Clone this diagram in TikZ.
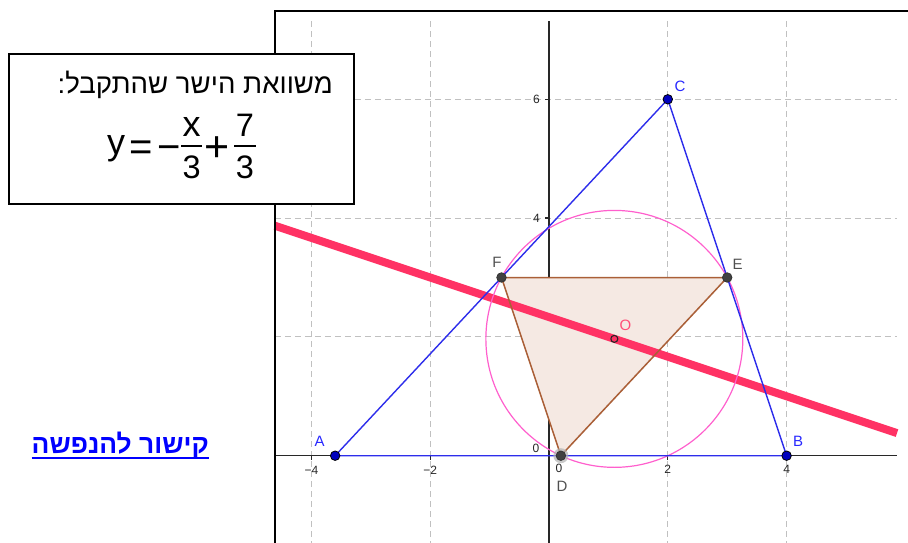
\documentclass[tikz,border=0pt]{standalone}
\usepackage{fontspec}
\setmainfont{Liberation Sans}
\newfontfamily\hebfont[Script=Hebrew]{Liberation Sans}
\TeXXeTstate=1
\definecolor{gridc}{RGB}{192,192,192}
\definecolor{axisc}{RGB}{40,40,40}
\definecolor{segblue}{RGB}{45,45,235}
\definecolor{ptblue}{RGB}{0,0,190}
\definecolor{circc}{RGB}{255,95,205}
\definecolor{redc}{RGB}{255,50,100}
\definecolor{brownc}{RGB}{170,95,55}
\definecolor{fillc}{RGB}{245,233,227}
\definecolor{ptgray}{RGB}{65,65,65}
\definecolor{lblgray}{RGB}{80,80,80}
\definecolor{lblblue}{RGB}{40,40,255}
\definecolor{lblpink}{RGB}{255,80,120}
\definecolor{linkblue}{RGB}{0,0,255}
\tikzset{
  gridline/.style={gridc, line width=1pt, dash pattern=on 6pt off 4pt},
  axisline/.style={axisc, line width=1.3pt},
  ticklbl/.style={inner sep=0, text=black!85, font=\fontsize{12}{14}\selectfont},
  ptlbl/.style={inner sep=0, font=\fontsize{15}{18}\selectfont},
  bluept/.style={circle, inner sep=0, minimum size=9.5pt, fill=ptblue, draw=black, line width=0.8pt},
  graypt/.style={circle, inner sep=0, minimum size=9.5pt, fill=ptgray, draw=black!80, line width=0.8pt},
  seg/.style={segblue, line width=1.4pt},
  brownseg/.style={brownc, line width=1.5pt},
  eqpart/.style={anchor=base, inner sep=0, font=\fontsize{#1}{#1}\selectfont},
  fracbar/.style={line width=1.8pt},
}
\begin{document}
\begin{tikzpicture}[x=1pt,y=-1pt]
\useasboundingbox (0,0) rectangle (908,543);
\begin{scope}[shift={(549,455.7)}, x=59.4pt, y=59.4pt]
  % grid
  \foreach \gx in {-4,-2,2,4} \draw[gridline] (\gx,7.31) -- (\gx,-1.47);
  \foreach \gy in {2,4,6} \draw[gridline] (-4.613,\gy) -- (5.859,\gy);
  % axes
  \draw[axisline] (-4.613,0) -- (5.86,0);
  \draw[axisline] (0,-1.47) -- (0,7.31);
  \foreach \gx in {-4,-2,2,4} \draw[axisline] (\gx,0) -- ++(0pt,-4pt);
  \foreach \gy in {2,4,6} \draw[axisline] (0,\gy) -- ++(-4pt,0pt);
  \node[ticklbl] (tm4) at (-4,-0.245) {−4};
  \node[ticklbl] (tm2) at (-2,-0.245) {−2};
  \node[ticklbl] (tp2) at (2,-0.235) {2};
  \node[ticklbl] (tp4) at (4,-0.235) {4};
  \node[ticklbl] (ty2) at (-0.21,2) {2};
  \node[ticklbl] (ty4) at (-0.21,4) {4};
  \node[ticklbl] (ty6) at (-0.21,6) {6};
  \node[ticklbl] (tz1) at (-0.219,0.13) {0};
  \node[ticklbl] (tz2) at (0.168,-0.215) {0};
  % geometry
  \coordinate (A) at (-3.6,0);
  \coordinate (B) at (4,0);
  \coordinate (C) at (2,6);
  \coordinate (D) at (0.2,0);
  \coordinate (E) at (3,3);
  \coordinate (F) at (-0.8,3);
  \coordinate (O) at (1.1,1.96667);
  \coordinate (L1) at (-4.613,3.8710);
  \coordinate (L2) at (5.859,0.3803);
  \fill[fillc] (D) -- (E) -- (F) -- cycle;
  \draw[redc, line width=8pt] (L1) -- (L2);
  \draw[circc, line width=1.2pt] (O) circle[radius=2.1628];
  \draw[seg] (A) -- (B) -- (C) -- cycle;
  \draw[brownseg] (D) -- (E) -- (F) -- cycle;
  \node[bluept] (pA) at (A) {};
  \node[bluept] (pB) at (B) {};
  \node[bluept] (pC) at (C) {};
  \node[circle, inner sep=0, minimum size=15pt, fill=black!30, opacity=0.7] (hD) at (D) {};
  \node[graypt] (pD) at (D) {};
  \node[graypt] (pE) at (E) {};
  \node[graypt] (pF) at (F) {};
  \node[circle, inner sep=0, minimum size=7pt, draw=black!85, line width=1.1pt] (pO) at (O) {};
\end{scope}
% point labels
\node[ptlbl, text=lblblue] (labA) at (319.5,441) {A};
\node[ptlbl, text=lblblue] (labB) at (798,441.5) {B};
\node[ptlbl, text=lblblue] (labC) at (680,86) {C};
\node[ptlbl, text=lblgray] (labD) at (562,486) {D};
\node[ptlbl, text=lblgray] (labE) at (737.5,264) {E};
\node[ptlbl, text=lblgray] (labF) at (497,262) {F};
\node[ptlbl, text=lblpink] (labO) at (625.5,325) {O};
% panel frame
\draw[line width=2pt] (908,11) -- (275,11) -- (275,543);
% equation box
\node[draw, line width=2pt, fill=white, minimum width=345pt, minimum height=150pt, inner sep=0] (eqbox) at (181.5,129) {};
\node[anchor=base east, inner sep=0, font=\hebfont\fontsize{27.6}{33}\selectfont] (title) at (333,93.3) {\beginR משוואת הישר שהתקבל:\endR};
% equation y = -x/3 + 7/3
\node[eqpart=36] (eqy) at (116.2,154.1) {y};
\node[eqpart=40] (eqeq) at (141.2,160.7) {=};
\node[eqpart=40] (eqmin) at (168.8,160) {−};
\node[eqpart=36] (eqx) at (191.7,136.7) {x};
\node[eqpart=32.5] (eqd1) at (191.7,178) {3};
\node[eqpart=43] (eqplus) at (217.2,161) {+};
\node[eqpart=32.5] (eqn2) at (244.9,136.7) {7};
\node[eqpart=32.5] (eqd2) at (244.9,178) {3};
\draw[fracbar] (181,146) -- (202.3,146);
\draw[fracbar] (234,146) -- (255.7,146);
% link
\node[anchor=base east, inner sep=0, text=linkblue, font=\hebfont\bfseries\fontsize{26.4}{31}\selectfont] (link) at (209,453.3) {\beginR קישור להנפשה\endR};
\draw[linkblue, line width=2.5pt] ([yshift=-4.5pt]link.base west) -- ([yshift=-4.5pt]link.base east);
\end{tikzpicture}
\end{document}
